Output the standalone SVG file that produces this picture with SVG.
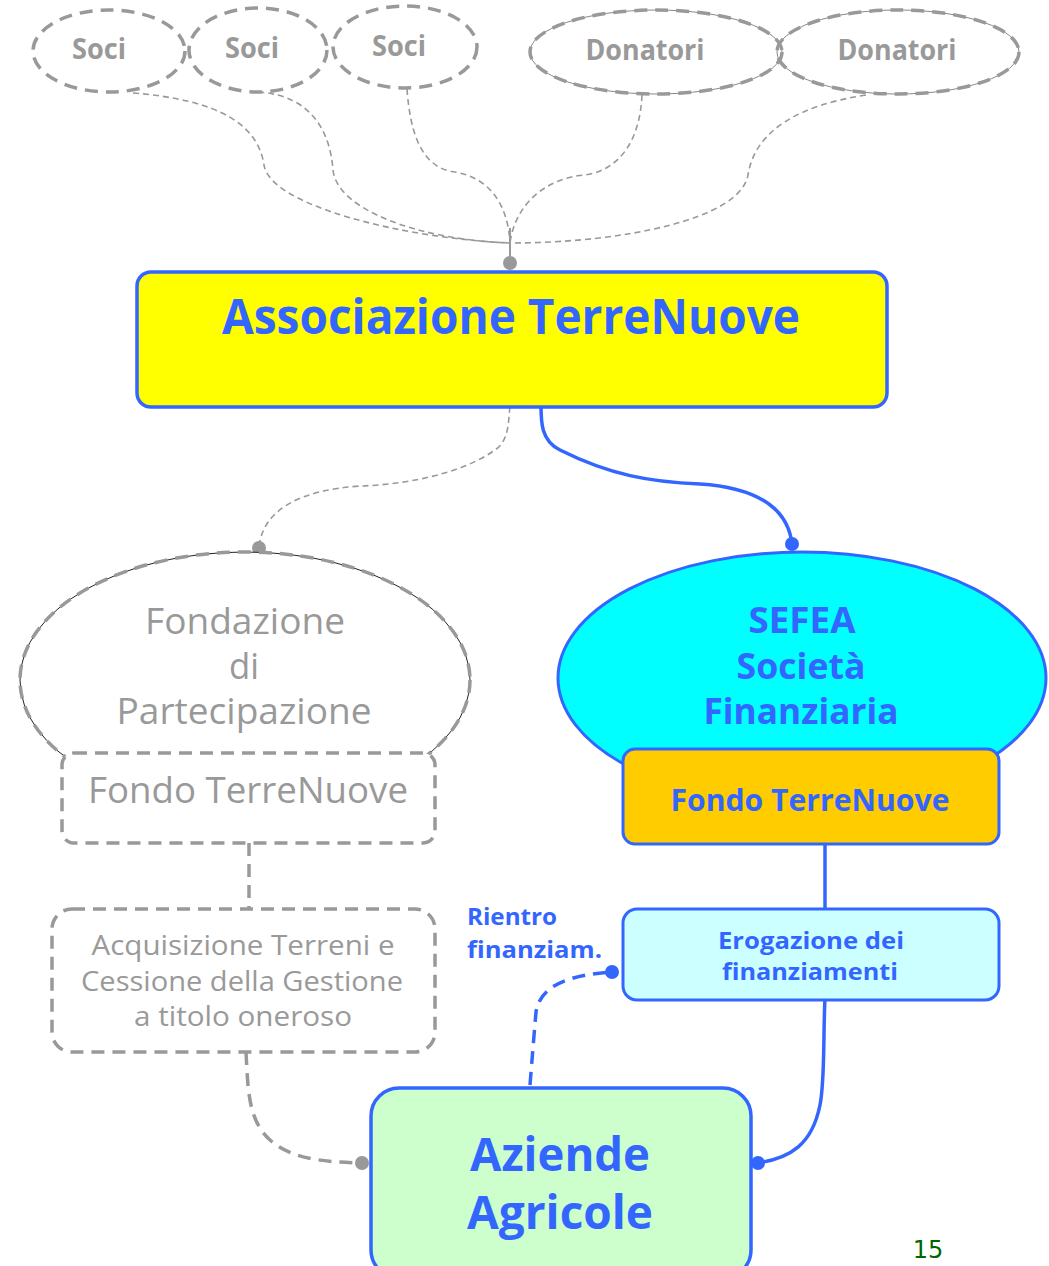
<svg xmlns="http://www.w3.org/2000/svg" width="1049" height="1266" viewBox="0 0 1049 1266">
<style>
text{font-family:"Open Sans","Noto Sans","Liberation Sans",sans-serif;text-anchor:middle}
.g{fill:#999999}
.b{fill:#3366ff;font-weight:bold}
.gd{fill:none;stroke:#999999;stroke-width:3.5;stroke-dasharray:13 8}
.thin{fill:none;stroke:#888888;stroke-width:1}
.cg{fill:none;stroke:#999999;stroke-width:1.6;stroke-dasharray:6 4}
.cgt{fill:none;stroke:#999999;stroke-width:3.5;stroke-dasharray:13 8}
.cb{fill:none;stroke:#3366ff;stroke-width:3.5}
.cbd{fill:none;stroke:#3366ff;stroke-width:3.5;stroke-dasharray:13 8}
.dg{fill:#999999}
.db{fill:#3366ff}
.bs{stroke:#3366ff;stroke-width:3.5}
</style>
<rect width="1049" height="1266" fill="#ffffff"/>
<g id="connectors">
<path class="cg" d="M133 93 C220 100 258 125 264 165 C270 205 400 238 510 243"/>
<path class="cg" d="M258 92 C310 95 330 130 333 170 C337 210 420 240 510 243"/>
<path class="cg" d="M407 89 C410 130 420 168 455 172 C490 178 508 205 510 243"/>
<path class="cg" d="M642 95 C640 140 620 170 585 175 C545 178 515 205 510 243"/>
<path class="cg" d="M866 95 C800 105 755 130 748 175 C740 220 620 243 510 243"/>
<line x1="510" y1="228" x2="510" y2="263" stroke="#999999" stroke-width="2"/>
<circle class="dg" cx="510" cy="263" r="7"/>
<path class="cg" d="M510 407 C508 420 510 440 495 450 C460 475 400 485 360 486 C300 490 262 510 259 548"/>
<circle class="dg" cx="259" cy="548" r="7"/>
<path class="cb" d="M541 402 C541 420 540 440 560 450 C610 475 650 482 700 484 C760 488 788 510 792 544"/>
<circle class="db" cx="792" cy="544" r="7"/>
<line class="cb" x1="825" y1="844" x2="825" y2="909"/>
<line class="cgt" x1="249" y1="843" x2="249" y2="909"/>
<path class="cgt" d="M246 1052 C248 1090 248 1120 270 1140 C290 1158 320 1162 362 1163"/>
<circle class="dg" cx="362" cy="1163" r="7"/>
<path class="cb" d="M825 998 C823 1040 825 1080 820 1105 C812 1145 790 1158 758 1163"/>
<circle class="db" cx="758" cy="1163" r="7"/>
<path class="cbd" d="M530 1085 C532 1060 534 1035 536 1012 C540 985 570 975 612 972"/>
<circle class="db" cx="612" cy="972" r="7"/>
</g>
<g id="soci1"><ellipse class="gd" cx="109" cy="51" rx="76" ry="41"/><text class="g" x="99" y="59" font-size="28" font-weight="bold" textLength="54" lengthAdjust="spacingAndGlyphs">Soci</text></g>
<g id="soci2"><ellipse class="gd" cx="258" cy="50" rx="69" ry="42"/><text class="g" x="252" y="58" font-size="28" font-weight="bold" textLength="54" lengthAdjust="spacingAndGlyphs">Soci</text></g>
<g id="soci3"><ellipse class="gd" cx="405" cy="47" rx="72" ry="41"/><text class="g" x="399" y="56" font-size="28" font-weight="bold" textLength="54" lengthAdjust="spacingAndGlyphs">Soci</text></g>
<g id="donatori1"><ellipse class="thin" cx="656" cy="52" rx="126" ry="42"/><ellipse class="gd" cx="656" cy="52" rx="126" ry="42"/><text class="g" x="645" y="60" font-size="28" font-weight="bold" textLength="119" lengthAdjust="spacingAndGlyphs">Donatori</text></g>
<g id="donatori2"><ellipse class="thin" cx="898" cy="52" rx="121" ry="42"/><ellipse class="gd" cx="898" cy="52" rx="121" ry="42"/><text class="g" x="897" y="60" font-size="28" font-weight="bold" textLength="119" lengthAdjust="spacingAndGlyphs">Donatori</text></g>
<g id="associazione"><rect x="137" y="272" width="750" height="135" rx="14" fill="#ffff00" class="bs"/><text class="b" x="511" y="334" font-size="48" textLength="578" lengthAdjust="spacingAndGlyphs">Associazione TerreNuove</text></g>
<g id="fondazione"><ellipse cx="245" cy="680" rx="225" ry="128" fill="#ffffff" stroke="#222222" stroke-width="1"/><ellipse class="gd" cx="245" cy="680" rx="225" ry="128"/>
<text class="g" x="245" y="634" font-size="36" textLength="200" lengthAdjust="spacingAndGlyphs">Fondazione</text>
<text class="g" x="244" y="679" font-size="36" textLength="30" lengthAdjust="spacingAndGlyphs">di</text>
<text class="g" x="244" y="724" font-size="36" textLength="255" lengthAdjust="spacingAndGlyphs">Partecipazione</text></g>
<g id="fondo-gray"><rect x="62" y="753" width="373" height="90" rx="12" fill="#ffffff"/><rect x="62" y="753" width="373" height="90" rx="12" class="gd"/><text class="g" x="248" y="803" font-size="36" textLength="320" lengthAdjust="spacingAndGlyphs">Fondo TerreNuove</text></g>
<g id="sefea"><ellipse cx="802" cy="678" rx="244" ry="126" fill="#00ffff" stroke="#3366ff" stroke-width="3"/>
<text class="b" x="802" y="633" font-size="36" textLength="107" lengthAdjust="spacingAndGlyphs">SEFEA</text>
<text class="b" x="801" y="679" font-size="36" textLength="129" lengthAdjust="spacingAndGlyphs">Società</text>
<text class="b" x="801" y="724" font-size="36" textLength="195" lengthAdjust="spacingAndGlyphs">Finanziaria</text></g>
<g id="fondo-sefea"><rect x="623" y="749" width="376" height="95" rx="12" fill="#ffcc00" stroke="#3366ff" stroke-width="3"/><text class="b" x="810" y="811" font-size="30" textLength="279" lengthAdjust="spacingAndGlyphs">Fondo TerreNuove</text></g>
<g id="erogazione"><rect x="623" y="909" width="376" height="91" rx="14" fill="#ccffff" stroke="#3366ff" stroke-width="3"/>
<text class="b" x="811" y="949" font-size="24" textLength="186" lengthAdjust="spacingAndGlyphs">Erogazione dei</text>
<text class="b" x="810" y="980" font-size="24" textLength="176" lengthAdjust="spacingAndGlyphs">finanziamenti</text></g>
<g id="acquisizione"><rect x="52" y="909" width="383" height="143" rx="20" class="gd"/>
<text class="g" x="243" y="955" font-size="28" textLength="303" lengthAdjust="spacingAndGlyphs">Acquisizione Terreni e</text>
<text class="g" x="242" y="991" font-size="28" textLength="322" lengthAdjust="spacingAndGlyphs">Cessione della Gestione</text>
<text class="g" x="243" y="1026" font-size="28" textLength="218" lengthAdjust="spacingAndGlyphs">a titolo oneroso</text></g>
<g id="aziende"><rect x="371" y="1088" width="380" height="190" rx="28" fill="#ccffcc" class="bs"/>
<text class="b" x="560" y="1171" font-size="46" textLength="180" lengthAdjust="spacingAndGlyphs">Aziende</text>
<text class="b" x="560" y="1229" font-size="46" textLength="186" lengthAdjust="spacingAndGlyphs">Agricole</text></g>
<g id="rientro-label">
<text class="b" x="467" y="925" font-size="24" style="text-anchor:start" textLength="90" lengthAdjust="spacingAndGlyphs">Rientro</text>
<text class="b" x="467" y="958" font-size="24" style="text-anchor:start" textLength="135" lengthAdjust="spacingAndGlyphs">finanziam.</text></g>
<text x="928" y="1258" font-size="24" fill="#006600" style="font-family:'DejaVu Sans',sans-serif">15</text>
</svg>
